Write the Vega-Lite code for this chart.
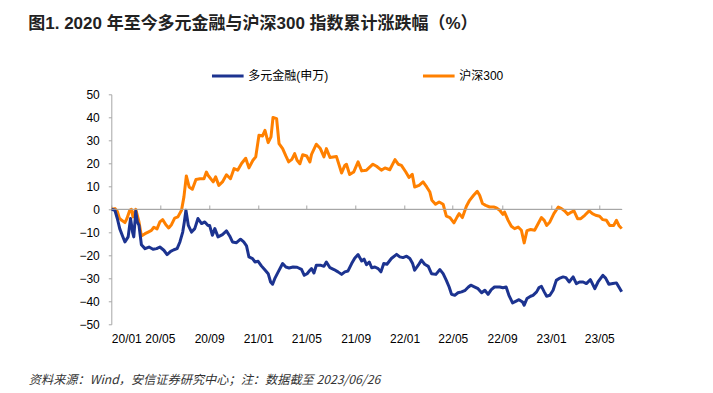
{
  "$schema": "https://vega.github.io/schema/vega-lite/v6.json",
  "autosize": {"type": "none"},
  "width": 510.4,
  "height": 230,
  "padding": {"left": 111.3, "top": 94.3, "right": 91, "bottom": 69},
  "background": "white",
  "config": {"view": {"stroke": null}, "font": "Liberation Sans, Noto Sans CJK SC", "axisY": {"labelOverlap": false}},
  "title": {
    "text": "图1. 2020 年至今多元金融与沪深300 指数累计涨跌幅（%）",
    "anchor": "start",
    "frame": "bounds",
    "fontSize": 17,
    "fontWeight": "bold",
    "color": "#222222",
    "font": "Liberation Sans, Noto Sans CJK SC",
    "offset": 25
  },
  "data": {"values": [
    {"d":"2020-01-02","s":"沪深300","v":0},{"d":"2020-01-10","s":"沪深300","v":0.3},{"d":"2020-01-16","s":"沪深300","v":-0.9},{"d":"2020-01-21","s":"沪深300","v":-3.8},{"d":"2020-01-27","s":"沪深300","v":-4.8},{"d":"2020-02-04","s":"沪深300","v":-5.8},{"d":"2020-02-09","s":"沪深300","v":-4},{"d":"2020-02-16","s":"沪深300","v":-0.4},{"d":"2020-02-20","s":"沪深300","v":0},{"d":"2020-02-24","s":"沪深300","v":-3.3},{"d":"2020-03-02","s":"沪深300","v":0},{"d":"2020-03-10","s":"沪深300","v":-5.5},{"d":"2020-03-16","s":"沪深300","v":-11.6},{"d":"2020-03-25","s":"沪深300","v":-10.6},{"d":"2020-04-02","s":"沪深300","v":-9.9},{"d":"2020-04-10","s":"沪深300","v":-9.2},{"d":"2020-04-16","s":"沪深300","v":-7.8},{"d":"2020-04-24","s":"沪深300","v":-8.5},{"d":"2020-05-01","s":"沪深300","v":-5.5},{"d":"2020-05-08","s":"沪深300","v":-4.5},{"d":"2020-05-16","s":"沪深300","v":-6.7},{"d":"2020-05-23","s":"沪深300","v":-8.1},{"d":"2020-05-30","s":"沪深300","v":-6.7},{"d":"2020-06-07","s":"沪深300","v":-3.8},{"d":"2020-06-15","s":"沪深300","v":-3.3},{"d":"2020-06-24","s":"沪深300","v":-0.4},{"d":"2020-06-30","s":"沪深300","v":5.4},{"d":"2020-07-06","s":"沪深300","v":14.5},{"d":"2020-07-13","s":"沪深300","v":9.7},{"d":"2020-07-21","s":"沪深300","v":8.7},{"d":"2020-07-30","s":"沪深300","v":13},{"d":"2020-08-09","s":"沪深300","v":13.3},{"d":"2020-08-19","s":"沪深300","v":13.3},{"d":"2020-08-25","s":"沪深300","v":16.2},{"d":"2020-08-29","s":"沪深300","v":14.8},{"d":"2020-09-11","s":"沪深300","v":11.9},{"d":"2020-09-17","s":"沪深300","v":14.1},{"d":"2020-09-25","s":"沪深300","v":10.4},{"d":"2020-10-04","s":"沪深300","v":11.9},{"d":"2020-10-14","s":"沪深300","v":15},{"d":"2020-10-24","s":"沪深300","v":13.3},{"d":"2020-11-02","s":"沪深300","v":17.7},{"d":"2020-11-11","s":"沪深300","v":17},{"d":"2020-11-21","s":"沪深300","v":20},{"d":"2020-12-01","s":"沪深300","v":22.2},{"d":"2020-12-09","s":"沪深300","v":18},{"d":"2020-12-19","s":"沪深300","v":21.3},{"d":"2020-12-26","s":"沪深300","v":22.8},{"d":"2021-01-03","s":"沪深300","v":32.2},{"d":"2021-01-12","s":"沪深300","v":31.9},{"d":"2021-01-18","s":"沪深300","v":34.3},{"d":"2021-01-26","s":"沪深300","v":29},{"d":"2021-02-02","s":"沪深300","v":31.5},{"d":"2021-02-07","s":"沪深300","v":39.9},{"d":"2021-02-16","s":"沪深300","v":39.4},{"d":"2021-02-22","s":"沪深300","v":28.6},{"d":"2021-03-03","s":"沪深300","v":26.4},{"d":"2021-03-11","s":"沪深300","v":23.2},{"d":"2021-03-18","s":"沪深300","v":20.6},{"d":"2021-03-26","s":"沪深300","v":21.7},{"d":"2021-04-02","s":"沪深300","v":24.2},{"d":"2021-04-08","s":"沪深300","v":21.3},{"d":"2021-04-15","s":"沪深300","v":19.8},{"d":"2021-04-22","s":"沪深300","v":23.7},{"d":"2021-05-02","s":"沪深300","v":23.2},{"d":"2021-05-10","s":"沪深300","v":20.6},{"d":"2021-05-14","s":"沪深300","v":23.9},{"d":"2021-05-26","s":"沪深300","v":28.3},{"d":"2021-06-05","s":"沪深300","v":26.4},{"d":"2021-06-14","s":"沪深300","v":22.8},{"d":"2021-06-20","s":"沪深300","v":26.4},{"d":"2021-06-29","s":"沪深300","v":22.5},{"d":"2021-07-15","s":"沪深300","v":23},{"d":"2021-07-28","s":"沪深300","v":15.8},{"d":"2021-08-05","s":"沪深300","v":19.1},{"d":"2021-08-09","s":"沪深300","v":19.6},{"d":"2021-08-17","s":"沪深300","v":15.1},{"d":"2021-08-27","s":"沪深300","v":16.2},{"d":"2021-09-07","s":"沪深300","v":20.6},{"d":"2021-09-16","s":"沪深300","v":16.7},{"d":"2021-09-28","s":"沪深300","v":17},{"d":"2021-10-14","s":"沪深300","v":19.6},{"d":"2021-10-23","s":"沪深300","v":18.7},{"d":"2021-11-04","s":"沪深300","v":17},{"d":"2021-11-13","s":"沪深300","v":18},{"d":"2021-11-25","s":"沪深300","v":17.2},{"d":"2021-12-08","s":"沪深300","v":21.6},{"d":"2021-12-16","s":"沪深300","v":19.6},{"d":"2021-12-24","s":"沪深300","v":19.1},{"d":"2022-01-04","s":"沪深300","v":16.2},{"d":"2022-01-12","s":"沪深300","v":13.8},{"d":"2022-01-20","s":"沪深300","v":15.2},{"d":"2022-01-26","s":"沪深300","v":9.7},{"d":"2022-02-06","s":"沪深300","v":10.4},{"d":"2022-02-16","s":"沪深300","v":11.9},{"d":"2022-02-25","s":"沪深300","v":9.7},{"d":"2022-03-05","s":"沪深300","v":7.5},{"d":"2022-03-10","s":"沪深300","v":3.9},{"d":"2022-03-19","s":"沪深300","v":2.2},{"d":"2022-03-28","s":"沪深300","v":3.2},{"d":"2022-04-07","s":"沪深300","v":2.2},{"d":"2022-04-15","s":"沪深300","v":-3},{"d":"2022-04-24","s":"沪深300","v":-3.6},{"d":"2022-05-04","s":"沪深300","v":-5.9},{"d":"2022-05-12","s":"沪深300","v":-3.3},{"d":"2022-05-17","s":"沪深300","v":-1.9},{"d":"2022-05-25","s":"沪深300","v":-3.6},{"d":"2022-06-04","s":"沪深300","v":1.3},{"d":"2022-06-12","s":"沪深300","v":3.9},{"d":"2022-06-22","s":"沪深300","v":6.1},{"d":"2022-07-01","s":"沪深300","v":7.8},{"d":"2022-07-07","s":"沪深300","v":6.1},{"d":"2022-07-14","s":"沪深300","v":2.5},{"d":"2022-07-22","s":"沪深300","v":1.7},{"d":"2022-08-01","s":"沪深300","v":1},{"d":"2022-08-11","s":"沪深300","v":1},{"d":"2022-08-18","s":"沪深300","v":0.6},{"d":"2022-08-26","s":"沪深300","v":-0.4},{"d":"2022-09-03","s":"沪深300","v":-2.2},{"d":"2022-09-07","s":"沪深300","v":-1.2},{"d":"2022-09-16","s":"沪深300","v":-4.8},{"d":"2022-09-24","s":"沪深300","v":-7.4},{"d":"2022-10-02","s":"沪深300","v":-8.4},{"d":"2022-10-11","s":"沪深300","v":-7.7},{"d":"2022-10-19","s":"沪深300","v":-9.1},{"d":"2022-10-26","s":"沪深300","v":-14.6},{"d":"2022-11-02","s":"沪深300","v":-9.3},{"d":"2022-11-11","s":"沪深300","v":-8.8},{"d":"2022-11-21","s":"沪深300","v":-9.1},{"d":"2022-11-30","s":"沪深300","v":-6.2},{"d":"2022-12-08","s":"沪深300","v":-3.6},{"d":"2022-12-15","s":"沪深300","v":-4.8},{"d":"2022-12-21","s":"沪深300","v":-7},{"d":"2022-12-29","s":"沪深300","v":-5.5},{"d":"2023-01-08","s":"沪深300","v":-1.9},{"d":"2023-01-19","s":"沪深300","v":1},{"d":"2023-01-27","s":"沪深300","v":0.3},{"d":"2023-02-04","s":"沪深300","v":-0.7},{"d":"2023-02-12","s":"沪深300","v":-2.2},{"d":"2023-02-21","s":"沪深300","v":-1.2},{"d":"2023-02-27","s":"沪深300","v":-0.7},{"d":"2023-03-08","s":"沪深300","v":-4.1},{"d":"2023-03-16","s":"沪深300","v":-4.1},{"d":"2023-03-26","s":"沪深300","v":-2.6},{"d":"2023-04-06","s":"沪深300","v":-0.7},{"d":"2023-04-14","s":"沪深300","v":-1.9},{"d":"2023-04-22","s":"沪深300","v":-2.6},{"d":"2023-05-02","s":"沪深300","v":-3},{"d":"2023-05-10","s":"沪深300","v":-4.5},{"d":"2023-05-19","s":"沪深300","v":-4.8},{"d":"2023-05-27","s":"沪深300","v":-7},{"d":"2023-06-06","s":"沪深300","v":-7},{"d":"2023-06-13","s":"沪深300","v":-4.8},{"d":"2023-06-19","s":"沪深300","v":-7},{"d":"2023-06-26","s":"沪深300","v":-8.4},
    {"d":"2020-01-02","s":"多元金融(申万)","v":0},{"d":"2020-01-10","s":"多元金融(申万)","v":-0.4},{"d":"2020-01-16","s":"多元金融(申万)","v":-4},{"d":"2020-01-22","s":"多元金融(申万)","v":-8.4},{"d":"2020-01-29","s":"多元金融(申万)","v":-11.6},{"d":"2020-02-04","s":"多元金融(申万)","v":-14.2},{"d":"2020-02-12","s":"多元金融(申万)","v":-12},{"d":"2020-02-18","s":"多元金融(申万)","v":-4},{"d":"2020-02-23","s":"多元金融(申万)","v":-9.9},{"d":"2020-02-26","s":"多元金融(申万)","v":-12},{"d":"2020-03-02","s":"多元金融(申万)","v":-0.9},{"d":"2020-03-06","s":"多元金融(申万)","v":-5.5},{"d":"2020-03-10","s":"多元金融(申万)","v":-7},{"d":"2020-03-16","s":"多元金融(申万)","v":-15.4},{"d":"2020-03-25","s":"多元金融(申万)","v":-17.1},{"d":"2020-04-04","s":"多元金融(申万)","v":-16.4},{"d":"2020-04-14","s":"多元金融(申万)","v":-17.4},{"d":"2020-04-23","s":"多元金融(申万)","v":-17.1},{"d":"2020-05-01","s":"多元金融(申万)","v":-16.4},{"d":"2020-05-11","s":"多元金融(申万)","v":-17.8},{"d":"2020-05-19","s":"多元金融(申万)","v":-19.7},{"d":"2020-05-28","s":"多元金融(申万)","v":-18.3},{"d":"2020-06-05","s":"多元金融(申万)","v":-17.6},{"d":"2020-06-13","s":"多元金融(申万)","v":-17.1},{"d":"2020-06-20","s":"多元金融(申万)","v":-14.2},{"d":"2020-06-27","s":"多元金融(申万)","v":-9.9},{"d":"2020-07-01","s":"多元金融(申万)","v":-5.5},{"d":"2020-07-05","s":"多元金融(申万)","v":-0.4},{"d":"2020-07-11","s":"多元金融(申万)","v":-7},{"d":"2020-07-19","s":"多元金融(申万)","v":-9.9},{"d":"2020-07-27","s":"多元金融(申万)","v":-8.4},{"d":"2020-08-04","s":"多元金融(申万)","v":-4},{"d":"2020-08-13","s":"多元金融(申万)","v":-6.2},{"d":"2020-08-21","s":"多元金融(申万)","v":-5.5},{"d":"2020-08-29","s":"多元金融(申万)","v":-7},{"d":"2020-09-02","s":"多元金融(申万)","v":-7},{"d":"2020-09-09","s":"多元金融(申万)","v":-11.3},{"d":"2020-09-15","s":"多元金融(申万)","v":-8.4},{"d":"2020-09-23","s":"多元金融(申万)","v":-12},{"d":"2020-10-04","s":"多元金融(申万)","v":-11},{"d":"2020-10-14","s":"多元金融(申万)","v":-9.4},{"d":"2020-10-22","s":"多元金融(申万)","v":-11.6},{"d":"2020-10-29","s":"多元金融(申万)","v":-14.2},{"d":"2020-11-08","s":"多元金融(申万)","v":-14.5},{"d":"2020-11-18","s":"多元金融(申万)","v":-13},{"d":"2020-11-26","s":"多元金融(申万)","v":-14.2},{"d":"2020-12-03","s":"多元金融(申万)","v":-15.9},{"d":"2020-12-09","s":"多元金融(申万)","v":-20.7},{"d":"2020-12-18","s":"多元金融(申万)","v":-21.4},{"d":"2020-12-24","s":"多元金融(申万)","v":-22.9},{"d":"2021-01-01","s":"多元金融(申万)","v":-22.6},{"d":"2021-01-09","s":"多元金融(申万)","v":-24.6},{"d":"2021-01-17","s":"多元金融(申万)","v":-26.2},{"d":"2021-01-26","s":"多元金融(申万)","v":-28},{"d":"2021-02-01","s":"多元金融(申万)","v":-31.6},{"d":"2021-02-06","s":"多元金融(申万)","v":-32.6},{"d":"2021-02-12","s":"多元金融(申万)","v":-29.9},{"d":"2021-02-20","s":"多元金融(申万)","v":-27.2},{"d":"2021-03-03","s":"多元金融(申万)","v":-23.6},{"d":"2021-03-11","s":"多元金融(申万)","v":-25.1},{"d":"2021-03-19","s":"多元金融(申万)","v":-25.5},{"d":"2021-03-29","s":"多元金融(申万)","v":-25.1},{"d":"2021-04-08","s":"多元金融(申万)","v":-25.2},{"d":"2021-04-19","s":"多元金融(申万)","v":-26.1},{"d":"2021-04-26","s":"多元金融(申万)","v":-28.7},{"d":"2021-05-03","s":"多元金融(申万)","v":-28},{"d":"2021-05-10","s":"多元金融(申万)","v":-26.5},{"d":"2021-05-14","s":"多元金融(申万)","v":-25.8},{"d":"2021-05-20","s":"多元金融(申万)","v":-27.7},{"d":"2021-05-26","s":"多元金融(申万)","v":-24.3},{"d":"2021-06-05","s":"多元金融(申万)","v":-24.3},{"d":"2021-06-14","s":"多元金融(申万)","v":-24.8},{"d":"2021-06-20","s":"多元金融(申万)","v":-22.9},{"d":"2021-06-29","s":"多元金融(申万)","v":-25.4},{"d":"2021-07-09","s":"多元金融(申万)","v":-26.2},{"d":"2021-07-19","s":"多元金融(申万)","v":-27.2},{"d":"2021-07-28","s":"多元金融(申万)","v":-28.3},{"d":"2021-08-05","s":"多元金融(申万)","v":-27.2},{"d":"2021-08-13","s":"多元金融(申万)","v":-26.8},{"d":"2021-08-22","s":"多元金融(申万)","v":-23.6},{"d":"2021-08-30","s":"多元金融(申万)","v":-21.2},{"d":"2021-09-07","s":"多元金融(申万)","v":-19.7},{"d":"2021-09-16","s":"多元金融(申万)","v":-22.5},{"d":"2021-09-22","s":"多元金融(申万)","v":-21.7},{"d":"2021-09-28","s":"多元金融(申万)","v":-24.1},{"d":"2021-10-05","s":"多元金融(申万)","v":-22.9},{"d":"2021-10-11","s":"多元金融(申万)","v":-25.4},{"d":"2021-10-19","s":"多元金融(申万)","v":-25.1},{"d":"2021-10-27","s":"多元金融(申万)","v":-25.8},{"d":"2021-11-03","s":"多元金融(申万)","v":-27.2},{"d":"2021-11-10","s":"多元金融(申万)","v":-23.6},{"d":"2021-11-18","s":"多元金融(申万)","v":-23.9},{"d":"2021-11-29","s":"多元金融(申万)","v":-21.4},{"d":"2021-12-12","s":"多元金融(申万)","v":-19.6},{"d":"2021-12-20","s":"多元金融(申万)","v":-20.7},{"d":"2021-12-28","s":"多元金融(申万)","v":-21},{"d":"2022-01-06","s":"多元金融(申万)","v":-20.4},{"d":"2022-01-14","s":"多元金融(申万)","v":-21.4},{"d":"2022-01-21","s":"多元金融(申万)","v":-23.6},{"d":"2022-01-26","s":"多元金融(申万)","v":-26.5},{"d":"2022-02-04","s":"多元金融(申万)","v":-24.3},{"d":"2022-02-12","s":"多元金融(申万)","v":-22.1},{"d":"2022-02-20","s":"多元金融(申万)","v":-23.9},{"d":"2022-03-01","s":"多元金融(申万)","v":-24.8},{"d":"2022-03-09","s":"多元金融(申万)","v":-28},{"d":"2022-03-20","s":"多元金融(申万)","v":-28.3},{"d":"2022-03-30","s":"多元金融(申万)","v":-26.2},{"d":"2022-04-07","s":"多元金融(申万)","v":-28},{"d":"2022-04-15","s":"多元金融(申万)","v":-30.9},{"d":"2022-04-22","s":"多元金融(申万)","v":-33.8},{"d":"2022-04-28","s":"多元金融(申万)","v":-37},{"d":"2022-05-06","s":"多元金融(申万)","v":-37.4},{"d":"2022-05-14","s":"多元金融(申万)","v":-36.3},{"d":"2022-05-23","s":"多元金融(申万)","v":-35.9},{"d":"2022-06-01","s":"多元金融(申万)","v":-35.2},{"d":"2022-06-09","s":"多元金融(申万)","v":-33.8},{"d":"2022-06-15","s":"多元金融(申万)","v":-33},{"d":"2022-06-25","s":"多元金融(申万)","v":-33.8},{"d":"2022-07-03","s":"多元金融(申万)","v":-34.5},{"d":"2022-07-12","s":"多元金融(申万)","v":-36.3},{"d":"2022-07-20","s":"多元金融(申万)","v":-35.2},{"d":"2022-07-28","s":"多元金融(申万)","v":-37},{"d":"2022-08-05","s":"多元金融(申万)","v":-34.9},{"d":"2022-08-13","s":"多元金融(申万)","v":-33.8},{"d":"2022-08-26","s":"多元金融(申万)","v":-33.8},{"d":"2022-09-03","s":"多元金融(申万)","v":-34.1},{"d":"2022-09-11","s":"多元金融(申万)","v":-33.8},{"d":"2022-09-18","s":"多元金融(申万)","v":-37.4},{"d":"2022-09-27","s":"多元金融(申万)","v":-40.7},{"d":"2022-10-06","s":"多元金融(申万)","v":-39.9},{"d":"2022-10-13","s":"多元金融(申万)","v":-39.3},{"d":"2022-10-22","s":"多元金融(申万)","v":-40.3},{"d":"2022-10-26","s":"多元金融(申万)","v":-41.7},{"d":"2022-11-02","s":"多元金融(申万)","v":-38.8},{"d":"2022-11-11","s":"多元金融(申万)","v":-37.8},{"d":"2022-11-17","s":"多元金融(申万)","v":-37.4},{"d":"2022-11-26","s":"多元金融(申万)","v":-35.9},{"d":"2022-12-02","s":"多元金融(申万)","v":-34},{"d":"2022-12-08","s":"多元金融(申万)","v":-33.5},{"d":"2022-12-15","s":"多元金融(申万)","v":-35.9},{"d":"2022-12-21","s":"多元金融(申万)","v":-37.8},{"d":"2022-12-29","s":"多元金融(申万)","v":-37.4},{"d":"2023-01-06","s":"多元金融(申万)","v":-35.2},{"d":"2023-01-14","s":"多元金融(申万)","v":-30.9},{"d":"2023-01-23","s":"多元金融(申万)","v":-29.9},{"d":"2023-01-31","s":"多元金融(申万)","v":-29.4},{"d":"2023-02-07","s":"多元金融(申万)","v":-29.7},{"d":"2023-02-15","s":"多元金融(申万)","v":-31.6},{"d":"2023-02-25","s":"多元金融(申万)","v":-29.4},{"d":"2023-03-05","s":"多元金融(申万)","v":-32.3},{"d":"2023-03-13","s":"多元金融(申万)","v":-31.6},{"d":"2023-03-22","s":"多元金融(申万)","v":-31.6},{"d":"2023-03-30","s":"多元金融(申万)","v":-32.3},{"d":"2023-04-09","s":"多元金融(申万)","v":-30.6},{"d":"2023-04-20","s":"多元金融(申万)","v":-34.5},{"d":"2023-04-28","s":"多元金融(申万)","v":-31.6},{"d":"2023-05-10","s":"多元金融(申万)","v":-28.7},{"d":"2023-05-17","s":"多元金融(申万)","v":-29.9},{"d":"2023-05-25","s":"多元金融(申万)","v":-32.6},{"d":"2023-06-04","s":"多元金融(申万)","v":-32.3},{"d":"2023-06-13","s":"多元金融(申万)","v":-32},{"d":"2023-06-19","s":"多元金融(申万)","v":-33.8},{"d":"2023-06-26","s":"多元金融(申万)","v":-35.9}
  ]},
  "layer": [
    {
      "mark": {"type": "line", "strokeWidth": 3, "strokeJoin": "round"},
      "encoding": {
        "x": {
          "field": "d", "type": "temporal",
          "scale": {"type": "utc", "domain": [{"year": 2020, "month": 1, "date": 1, "utc": true}, {"year": 2023, "month": 6, "date": 26, "utc": true}]},
          "axis": {
            "orient": "bottom", "domain": false, "ticks": false, "grid": false,
            "labelExpr": "utcFormat(datum.value, '%y/%m')", "labelOverlap": false,
            "labelFontSize": 12, "labelColor": "#000000", "labelPadding": 9, "labelFont": "Liberation Sans",
            "values": [{"year":2020,"month":1,"date":1,"utc":true},{"year":2020,"month":5,"date":1,"utc":true},{"year":2020,"month":9,"date":1,"utc":true},{"year":2021,"month":1,"date":1,"utc":true},{"year":2021,"month":5,"date":1,"utc":true},{"year":2021,"month":9,"date":1,"utc":true},{"year":2022,"month":1,"date":1,"utc":true},{"year":2022,"month":5,"date":1,"utc":true},{"year":2022,"month":9,"date":1,"utc":true},{"year":2023,"month":1,"date":1,"utc":true},{"year":2023,"month":5,"date":1,"utc":true}],
            "title": "资料来源：Wind，安信证券研究中心；注：数据截至 2023/06/26",
            "titleX": -83, "titleY": 55, "titleAlign": "left", "titleBaseline": "middle",
            "titleFontSize": 12.2, "titleFontWeight": "normal", "titleFontStyle": "italic",
            "titleColor": "#333333", "titleFont": "Noto Sans CJK SC"
          }
        },
        "y": {
          "field": "v", "type": "quantitative",
          "scale": {"domain": [-50, 50], "nice": false},
          "axis": {
            "values": [-50, -40, -30, -20, -10, 0, 10, 20, 30, 40, 50],
            "labelOverlap": false,
            "grid": false, "title": null,
            "domainColor": "#A6A6A6", "tickColor": "#A6A6A6", "tickSize": 3,
            "labelFontSize": 12, "labelColor": "#000000", "labelPadding": 9, "labelFont": "Liberation Sans",
            "minExtent": 83
          }
        },
        "color": {
          "field": "s", "type": "nominal",
          "scale": {"domain": ["多元金融(申万)", "沪深300"], "range": ["#1C3390", "#FF8000"]},
          "legend": {
            "orient": "none", "legendX": 99, "legendY": -36, "direction": "horizontal",
            "title": null, "symbolType": "stroke", "symbolSize": 1000, "symbolStrokeWidth": 3,
            "labelFontSize": 12, "labelOffset": 3, "labelColor": "#000000", "columnPadding": 88, "padding": 0,
            "labelFont": "Liberation Sans, Noto Sans CJK SC"
          }
        }
      }
    },
    {
      "mark": {"type": "rule", "color": "#A6A6A6", "strokeWidth": 1},
      "encoding": {
        "x": {
          "aggregate": "min", "field": "d", "type": "temporal",
          "scale": {"type": "utc", "domain": [{"year": 2020, "month": 1, "date": 1, "utc": true}, {"year": 2023, "month": 6, "date": 26, "utc": true}]},
          "axis": {
            "orient": "top", "offset": -114.7, "labels": false, "title": null, "grid": false,
            "domainColor": "#A6A6A6", "tickColor": "#A6A6A6", "tickSize": 4, "ticks": true,
            "values": [{"year":2020,"month":1,"date":1,"utc":true},{"year":2020,"month":5,"date":1,"utc":true},{"year":2020,"month":9,"date":1,"utc":true},{"year":2021,"month":1,"date":1,"utc":true},{"year":2021,"month":5,"date":1,"utc":true},{"year":2021,"month":9,"date":1,"utc":true},{"year":2022,"month":1,"date":1,"utc":true},{"year":2022,"month":5,"date":1,"utc":true},{"year":2022,"month":9,"date":1,"utc":true},{"year":2023,"month":1,"date":1,"utc":true},{"year":2023,"month":5,"date":1,"utc":true}]
          }
        },
        "x2": {"aggregate": "max", "field": "d"},
        "y": {
          "datum": 0, "type": "quantitative",
          "axis": {
            "values": [-50, -40, -30, -20, -10, 0, 10, 20, 30, 40, 50],
            "labelOverlap": false,
            "grid": false, "title": null,
            "domainColor": "#A6A6A6", "tickColor": "#A6A6A6", "tickSize": 3,
            "labelFontSize": 12, "labelColor": "#000000", "labelPadding": 9, "labelFont": "Liberation Sans",
            "minExtent": 83
          }
        }
      }
    }
  ],
  "resolve": {"axis": {"x": "independent"}}
}
